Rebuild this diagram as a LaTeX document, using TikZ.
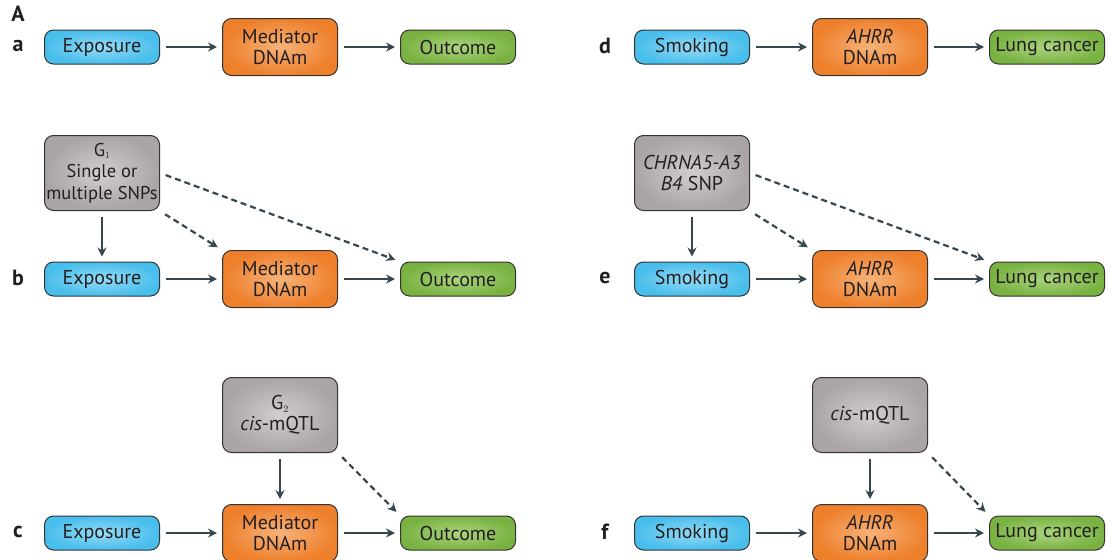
\documentclass[tikz,border=0pt]{standalone}
\usepackage{fontspec}
\setmainfont{PT Sans}
\usetikzlibrary{arrows.meta}

\definecolor{arrowgrey}{HTML}{37474F}
\definecolor{boxline}{HTML}{333333}
\definecolor{textdark}{HTML}{231F20}

\tikzset{
  box/.style={draw=boxline, line width=1pt, rounded corners=9pt, minimum width=115pt,
    text=textdark, align=center, font=\fontsize{20}{21}\selectfont, inner sep=1pt},
  expbox/.style={box, minimum height=34pt, inner color={rgb,255:red,150;green,218;blue,245}, outer color={rgb,255:red,72;green,190;blue,236}},
  medbox/.style={box, minimum height=57pt, inner color={rgb,255:red,246;green,178;blue,120}, outer color={rgb,255:red,238;green,128;blue,44}},
  outbox/.style={box, minimum height=34pt, inner color={rgb,255:red,170;green,212;blue,126}, outer color={rgb,255:red,122;green,178;blue,66}},
  snpbox/.style={box, minimum height=75pt, inner color={rgb,255:red,210;green,206;blue,206}, outer color={rgb,255:red,170;green,164;blue,164}},
  solidarrow/.style={arrowgrey, line width=2.2pt, -{Stealth[length=9pt,width=9pt]}, shorten <=6pt, shorten >=5pt},
  dasharrow/.style={solidarrow, dash pattern=on 6pt off 4pt},
  panel/.style={font=\fontsize{22}{22}\selectfont\bfseries, text=textdark}
}

\begin{document}
\begin{tikzpicture}[x=1pt, y=-1pt]
    \useasboundingbox (0,0) rectangle (1120,560);

    % Panel labels
    \node[panel] (lA) at (18,14) {A};
    \node[panel] (la) at (18,46) {a};
    \node[panel] (lb) at (18,278) {b};
    \node[panel] (lc) at (18,532) {c};
    \node[panel] (ld) at (605,46) {d};
    \node[panel] (le) at (605,278) {e};
    \node[panel] (lf) at (605,532) {f};

    % Panel a
    \node[expbox] (expa) at (102,47) {Exposure};
    \node[medbox] (meda) at (280,47) {Mediator\\DNAm};
    \node[outbox] (outa) at (458,47) {Outcome};
    \draw[solidarrow] (expa) -- (meda);
    \draw[solidarrow] (meda) -- (outa);

    % Panel b
    \node[snpbox, font=\fontsize{18.5}{21.5}\selectfont] (snpb) at (102,173) {G$_{\scriptscriptstyle 1}$\\Single or\\multiple SNPs};
    \node[expbox] (expb) at (102,279) {Exposure};
    \node[medbox] (medb) at (280,279) {Mediator\\DNAm};
    \node[outbox] (outb) at (458,279) {Outcome};
    \draw[solidarrow] (expb) -- (medb);
    \draw[solidarrow] (medb) -- (outb);
    \draw[solidarrow] (snpb) -- (expb);
    \draw[dasharrow] (snpb.south east) -- (medb.north west);
    \draw[dasharrow] (snpb.east) -- (outb.north west);

    % Panel c
    \node[snpbox] (snpc) at (280,415) {G$_{\scriptscriptstyle 2}$\\\textit{cis}-mQTL};
    \node[expbox] (expc) at (102,533) {Exposure};
    \node[medbox] (medc) at (280,533) {Mediator\\DNAm};
    \node[outbox] (outc) at (458,533) {Outcome};
    \draw[solidarrow] (expc) -- (medc);
    \draw[solidarrow] (medc) -- (outc);
    \draw[solidarrow] (snpc) -- (medc);
    \draw[dasharrow] (snpc.south east) -- (outc.north west);

    % Panel d
    \node[expbox] (expd) at (692,47) {Smoking};
    \node[medbox] (medd) at (870,47) {\textit{AHRR}\\DNAm};
    \node[outbox] (outd) at (1047,47) {Lung cancer};
    \draw[solidarrow] (expd) -- (medd);
    \draw[solidarrow] (medd) -- (outd);

    % Panel e
    \node[snpbox] (snpe) at (692,173) {\textit{CHRNA5-A3}\\\textit{B4} SNP};
    \node[expbox] (expe) at (692,279) {Smoking};
    \node[medbox] (mede) at (870,279) {\textit{AHRR}\\DNAm};
    \node[outbox] (oute) at (1047,279) {Lung cancer};
    \draw[solidarrow] (expe) -- (mede);
    \draw[solidarrow] (mede) -- (oute);
    \draw[solidarrow] (snpe) -- (expe);
    \draw[dasharrow] (snpe.south east) -- (mede.north west);
    \draw[dasharrow] (snpe.east) -- (oute.north west);

    % Panel f
    \node[snpbox] (snpf) at (870,415) {\textit{cis}-mQTL};
    \node[expbox] (expf) at (692,533) {Smoking};
    \node[medbox] (medf) at (870,533) {\textit{AHRR}\\DNAm};
    \node[outbox] (outf) at (1047,533) {Lung cancer};
    \draw[solidarrow] (expf) -- (medf);
    \draw[solidarrow] (medf) -- (outf);
    \draw[solidarrow] (snpf) -- (medf);
    \draw[dasharrow] (snpf.south east) -- (outf.north west);
\end{tikzpicture}
\end{document}
